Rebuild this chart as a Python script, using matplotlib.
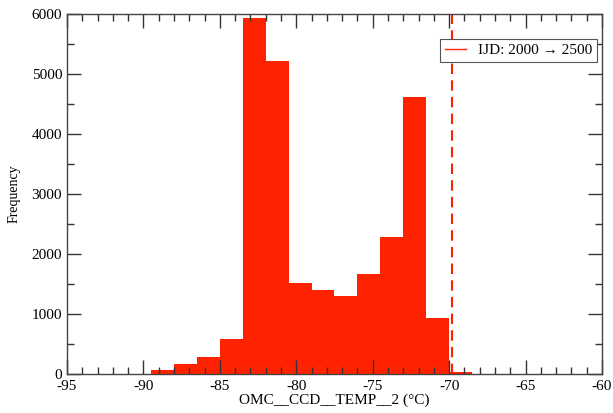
import numpy as np
import matplotlib.pyplot as plt
from matplotlib.ticker import MultipleLocator

## Data ##
bin_edges = np.arange(-89.5, -68.4, 1.5)
counts = [60, 160, 290, 580, 5930, 5220, 1520, 1400, 1300, 1660, 2290, 4620, 930, 30]
cut_temp = -69.8
legend_label = 'IJD: 2000 \u2192 2500'

plt.rcParams['font.family'] = ['Liberation Serif', 'DejaVu Serif']
plt.rcParams['axes.unicode_minus'] = False

fig = plt.figure(figsize=(6.13, 4.13), dpi=100)
ax = fig.add_axes([0.1093, 0.0944, 0.8727, 0.8716])

ax.bar(bin_edges[:-1], counts, width=np.diff(bin_edges), align='edge',
       color='#ff2200', linewidth=0)
ax.axvline(cut_temp, color='#ff2200', linestyle=(0, (5, 3)), linewidth=1.5)

# legend entry is just a thin red line
ax.plot([], [], color='#ff2200', linewidth=1, label=legend_label)
leg = ax.legend(loc='upper right', bbox_to_anchor=(1.005, 0.952), fontsize=11,
                fancybox=False, framealpha=1, edgecolor='#555555',
                handlelength=1.4, borderpad=0.3, handletextpad=0.8)
leg.get_frame().set_linewidth(0.8)

ax.set_xlim(-95, -60)
ax.set_ylim(0, 6000)
ax.xaxis.set_major_locator(MultipleLocator(5))
ax.xaxis.set_minor_locator(MultipleLocator(1))
ax.yaxis.set_major_locator(MultipleLocator(1000))
ax.yaxis.set_minor_locator(MultipleLocator(500))
ax.tick_params(which='both', direction='in', top=True, right=True,
               labelsize=11, color='#333333')
ax.tick_params(axis='x', pad=4)
ax.tick_params(which='major', length=10, width=1)
ax.tick_params(which='minor', length=5, width=1)
for s in ax.spines.values():
    s.set_color('#444444')
    s.set_linewidth(1)

ax.set_xlabel('OMC__CCD__TEMP__2 (\u00b0C)', fontsize=11, labelpad=1)
ax.set_ylabel('Frequency', fontsize=10, labelpad=8)

plt.savefig('out.png', dpi=100)
